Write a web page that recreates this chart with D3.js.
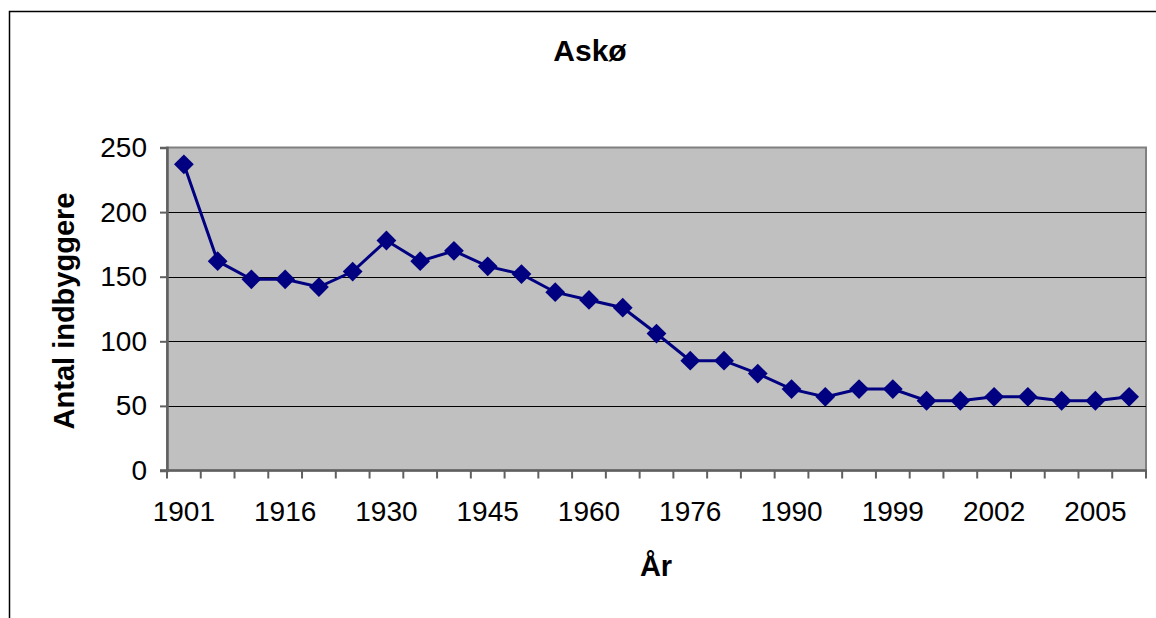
<!DOCTYPE html>
<html>
<head>
<meta charset="utf-8">
<script src="https://cdn.jsdelivr.net/npm/d3@7"></script>
<style>
  body { margin: 0; background: #fff; }
  svg { display: block; font-family: "Liberation Sans", Arial, sans-serif; }
</style>
</head>
<body>
<svg id="chart" width="1156" height="618"></svg>
<script>
// census years (only every third one is labelled on the axis)
const years = ['1901','1906','1911','1916','1921','1925','1930','1935','1940','1945',
  '1950','1955','1960','1965','1970','1976','1981','1986','1990','1993',
  '1996','1999','2000','2001','2002','2003','2004','2005','2006'];
const population = [237,162,148,148,142,154,178,162,170,158,
  152,138,132,126,106,85,85,75,63,57,
  63,63,54,54,57,57,54,54,57];
const yTicks = [0, 50, 100, 150, 200, 250];

const svg = d3.select('#chart');
const plotLeft = 167, plotRight = 1146, plotTop = 147.5, plotBottom = 470.5;

const x = d3.scaleBand().domain(years).range([plotLeft, plotRight]);
const y = d3.scaleLinear().domain([0, 250]).range([plotBottom, plotTop]);

// outer chart frame (only top and left edges visible)
svg.append('path')
  .attr('d', `M9.5,618 V11.5 H1156`)
  .attr('fill', 'none').attr('stroke', '#000').attr('stroke-width', 1.5);

// plot area
svg.append('rect')
  .attr('x', plotLeft).attr('y', plotTop)
  .attr('width', plotRight - plotLeft).attr('height', plotBottom - plotTop)
  .attr('fill', '#c0c0c0').attr('stroke', '#808080').attr('stroke-width', 2);

// gridlines
svg.append('g').selectAll('line')
  .data(yTicks.filter(d => d > 0 && d < 250))
  .join('line')
  .attr('x1', plotLeft).attr('x2', plotRight)
  .attr('y1', d => Math.round(y(d)) + 0.5).attr('y2', d => Math.round(y(d)) + 0.5)
  .attr('stroke', '#000').attr('stroke-width', 1.2);

// y axis
const yAxis = svg.append('g')
  .attr('transform', `translate(${plotLeft},0)`)
  .call(d3.axisLeft(y).tickValues(yTicks).tickSize(7).tickPadding(13));
yAxis.select('.domain').attr('stroke', '#606060').attr('stroke-width', 2.5);
yAxis.selectAll('.tick line').attr('stroke', '#606060').attr('stroke-width', 2);
yAxis.selectAll('.tick text')
  .attr('font-size', 28).attr('fill', '#000')
  .attr('font-family', '"Liberation Sans", Arial, sans-serif');

// x axis: ticks between categories, labels every third year
const bounds = years.map(d => x(d)).concat([x.range()[1]]);
const xAxis = svg.append('g');
xAxis.append('line')
  .attr('x1', plotLeft - 7).attr('x2', plotRight + 1)
  .attr('y1', plotBottom).attr('y2', plotBottom)
  .attr('stroke', '#606060').attr('stroke-width', 2.5);
xAxis.selectAll('line.tick')
  .data(bounds)
  .join('line').attr('class', 'tick')
  .attr('x1', d => d).attr('x2', d => d)
  .attr('y1', plotBottom).attr('y2', plotBottom + 8)
  .attr('stroke', '#606060').attr('stroke-width', 2);
xAxis.selectAll('text')
  .data(years.filter((d, i) => i % 3 === 0))
  .join('text')
  .attr('x', d => x(d) + x.bandwidth() / 2)
  .attr('y', 521)
  .attr('text-anchor', 'middle')
  .attr('font-size', 28)
  .text(d => d);

// line + diamond markers
const pts = years.map((d, i) => [x(d) + x.bandwidth() / 2, y(population[i])]);
svg.append('path')
  .attr('d', d3.line()(pts))
  .attr('fill', 'none').attr('stroke', '#000080').attr('stroke-width', 3);
svg.append('g').selectAll('path')
  .data(pts)
  .join('path')
  .attr('transform', d => `translate(${d[0]},${d[1]}) rotate(45)`)
  .attr('d', 'M-7,-7H7V7H-7Z')
  .attr('fill', '#000080');

// titles
svg.append('text')
  .attr('x', 590).attr('y', 61)
  .attr('text-anchor', 'middle')
  .attr('font-size', 30).attr('font-weight', 'bold')
  .text('Askø');
svg.append('text')
  .attr('transform', 'translate(74,311) rotate(-90)')
  .attr('text-anchor', 'middle')
  .attr('font-size', 29).attr('font-weight', 'bold')
  .text('Antal indbyggere');
svg.append('text')
  .attr('x', 656).attr('y', 576)
  .attr('text-anchor', 'middle')
  .attr('font-size', 29).attr('font-weight', 'bold')
  .text('År');
</script>
</body>
</html>
